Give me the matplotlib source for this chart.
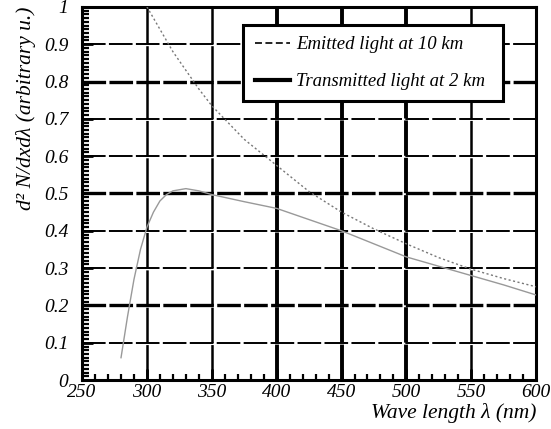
import numpy as np
import matplotlib
matplotlib.use("Agg")
import matplotlib.pyplot as plt
from matplotlib.ticker import MultipleLocator, FuncFormatter

plt.rcParams['font.family'] = ['Liberation Serif', 'DejaVu Serif']
plt.rcParams['font.style'] = 'italic'
plt.rcParams['lines.scale_dashes'] = False

# emitted light at 10 km
wl_emit = [300, 310, 320, 330, 340, 350, 375, 400, 425, 450, 475, 500, 525, 550, 575, 600]
emit = [1.0, 0.94, 0.88, 0.83, 0.78, 0.735, 0.645, 0.575, 0.505, 0.45, 0.405, 0.365, 0.328, 0.297, 0.272, 0.25]

# transmitted light at 2 km
wl_trans = [280, 285, 290, 295, 300, 305, 310, 315, 320, 330, 340, 350, 375, 400, 425, 450, 475, 500, 525, 550, 575, 600]
trans = [0.06, 0.17, 0.27, 0.35, 0.41, 0.45, 0.48, 0.497, 0.507, 0.513, 0.507, 0.497, 0.478, 0.46, 0.43, 0.40, 0.365, 0.33, 0.305, 0.28, 0.255, 0.228]

fig = plt.figure(figsize=(5.51, 4.29), dpi=100)
ax = fig.add_axes([0.149, 0.114, 0.824, 0.870])

ax.set_xlim(250, 600)
ax.set_ylim(0, 1)

# grid (dash lengths in points, 1 px = 0.72 pt)
for x in [300, 350, 400, 450, 500, 550]:
    lw = 2.8 if x in (400, 450, 500) else 1.8
    ax.axvline(x, color='black', lw=lw, dashes=(25.5, 1.4), zorder=1)
for y in np.arange(0.1, 1.0, 0.1):
    thick = round(y, 1) in (0.2, 0.5, 0.8)
    ax.axhline(y, color='black', lw=2.4 if thick else 1.4, dashes=(17, 2.4), zorder=1)

ax.plot(wl_emit, emit, color='#777777', lw=1.0, ls=(0, (1.5, 1.8)), zorder=3)
ax.plot(wl_trans, trans, color='#999999', lw=1.0, zorder=3)

# legend handles
ax.plot([], [], color='black', lw=1.2, ls=(0, (5, 2.5)), label='Emitted light at 10 km')
ax.plot([], [], color='black', lw=3.0, label='Transmitted light at 2 km')
leg = ax.legend(loc='upper left', bbox_to_anchor=(0.355, 0.752, 0.572, 0.2), mode='expand',
                borderaxespad=0, fontsize=13.5, frameon=True, fancybox=False, framealpha=1,
                edgecolor='black', handlelength=1.9, handletextpad=0.3, labelspacing=1.06,
                borderpad=0.6)
leg.get_frame().set_linewidth(2.2)
leg.set_zorder(5)

for sp in ax.spines.values():
    sp.set_linewidth(2.2)

ax.xaxis.set_major_locator(MultipleLocator(50))
ax.xaxis.set_minor_locator(MultipleLocator(10))
ax.yaxis.set_major_locator(MultipleLocator(0.1))
ax.yaxis.set_minor_locator(MultipleLocator(0.01))
ax.tick_params(which='both', direction='in', top=False, right=False)
ax.tick_params(which='major', length=8, width=2.0, labelsize=14)
ax.tick_params(axis='y', which='major', pad=10)
ax.tick_params(axis='x', which='major', pad=3)
ax.tick_params(axis='y', which='minor', length=5, width=1.6)
ax.tick_params(axis='x', which='minor', length=4, width=1.6)
ax.yaxis.set_major_formatter(FuncFormatter(lambda v, p: '%g' % round(v, 1)))

ax.set_xlabel('Wave length λ (nm)', fontsize=15.5, loc='right', labelpad=1)
ax.set_ylabel('d² N/dxdλ (arbitrary u.)', fontsize=15.5, loc='top', labelpad=6)

fig.savefig('out.png', dpi=100)
